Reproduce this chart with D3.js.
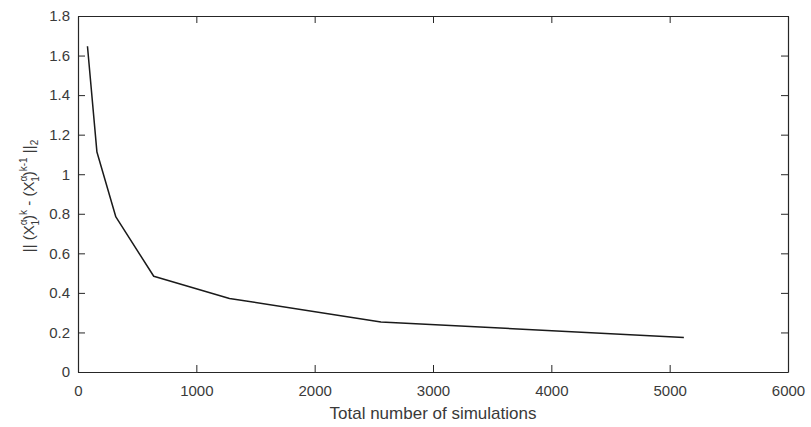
<!DOCTYPE html>
<html>
<head>
<meta charset="utf-8">
<script src="https://cdn.jsdelivr.net/npm/d3@7"></script>
<style>
  body { margin: 0; background: #fff; }
  svg { font-family: "Liberation Sans", Arial, sans-serif; }
  .axis text { fill: #3a3a3a; font-size: 15px; }
  .axis path, .axis line { stroke: #262626; }
</style>
</head>
<body>
<svg width="811" height="427"></svg>
<script>
// simulations per iteration (doubling) and change in X between iterations
var simulations = [80, 160, 320, 640, 1280, 2560, 5120];
var normDiff = [1.647, 1.112, 0.784, 0.484, 0.372, 0.253, 0.174];
var xTicks = [0, 1000, 2000, 3000, 4000, 5000, 6000];
var yTicks = [0, 0.2, 0.4, 0.6, 0.8, 1, 1.2, 1.4, 1.6, 1.8];

var svg = d3.select("svg"),
    margin = {top: 16, right: 23, bottom: 55, left: 78},
    width = +svg.attr("width") - margin.left - margin.right,
    height = +svg.attr("height") - margin.top - margin.bottom;

var g = svg.append("g")
    .attr("transform", "translate(" + margin.left + "," + margin.top + ")");

var x = d3.scaleLinear().domain([0, 6000]).range([0, width]);
var y = d3.scaleLinear().domain([0, 1.8]).range([height, 0]);

var fmt = function(d) { return String(d); };

// bottom / left axes with labels, ticks pointing inward
g.append("g")
    .attr("class", "axis")
    .attr("transform", "translate(0," + height + ")")
    .call(d3.axisBottom(x).tickValues(xTicks).tickFormat(fmt)
        .tickSizeInner(-7).tickSizeOuter(0).tickPadding(13));

g.append("g")
    .attr("class", "axis")
    .call(d3.axisLeft(y).tickValues(yTicks).tickFormat(fmt)
        .tickSizeInner(-7).tickSizeOuter(0).tickPadding(8));

// top / right box edges, ticks only
g.append("g")
    .attr("class", "axis")
    .call(d3.axisTop(x).tickValues(xTicks).tickFormat("")
        .tickSizeInner(-7).tickSizeOuter(0));

g.append("g")
    .attr("class", "axis")
    .attr("transform", "translate(" + width + ",0)")
    .call(d3.axisRight(y).tickValues(yTicks).tickFormat("")
        .tickSizeInner(-7).tickSizeOuter(0));

g.selectAll(".axis path").attr("stroke-width", 1.2);

var line = d3.line()
    .x(function(d, i) { return x(simulations[i]); })
    .y(function(d) { return y(d); });

g.append("path")
    .datum(normDiff)
    .attr("fill", "none")
    .attr("stroke", "#1a1a1a")
    .attr("stroke-width", 1.5)
    .attr("stroke-linejoin", "round")
    .attr("d", line);

// axis labels
g.append("text")
    .attr("x", width / 2)
    .attr("y", height + 47)
    .attr("text-anchor", "middle")
    .style("font-size", "17px")
    .style("fill", "#3a3a3a")
    .text("Total number of simulations");

var yl = svg.append("text")
    .attr("transform", "translate(34," + (margin.top + height / 2 + 2) + ") rotate(-90)")
    .attr("text-anchor", "middle")
    .style("font-size", "15px")
    .style("fill", "#3a3a3a");
yl.append("tspan").text("|| (X");
yl.append("tspan").attr("dy", -7).style("font-size", "10px").text("α");
yl.append("tspan").attr("dx", -6).attr("dy", 12).style("font-size", "10px").text("1");
yl.append("tspan").attr("dy", -5).text(")");
yl.append("tspan").attr("dy", -7).style("font-size", "10px").text("k");
yl.append("tspan").attr("dy", 7).text(" - (X");
yl.append("tspan").attr("dy", -7).style("font-size", "10px").text("α");
yl.append("tspan").attr("dx", -6).attr("dy", 12).style("font-size", "10px").text("1");
yl.append("tspan").attr("dy", -5).text(")");
yl.append("tspan").attr("dy", -7).style("font-size", "10px").text("k-1");
yl.append("tspan").attr("dy", 7).text(" ||");
yl.append("tspan").attr("dy", 4).style("font-size", "10px").text("2");
</script>
</body>
</html>
